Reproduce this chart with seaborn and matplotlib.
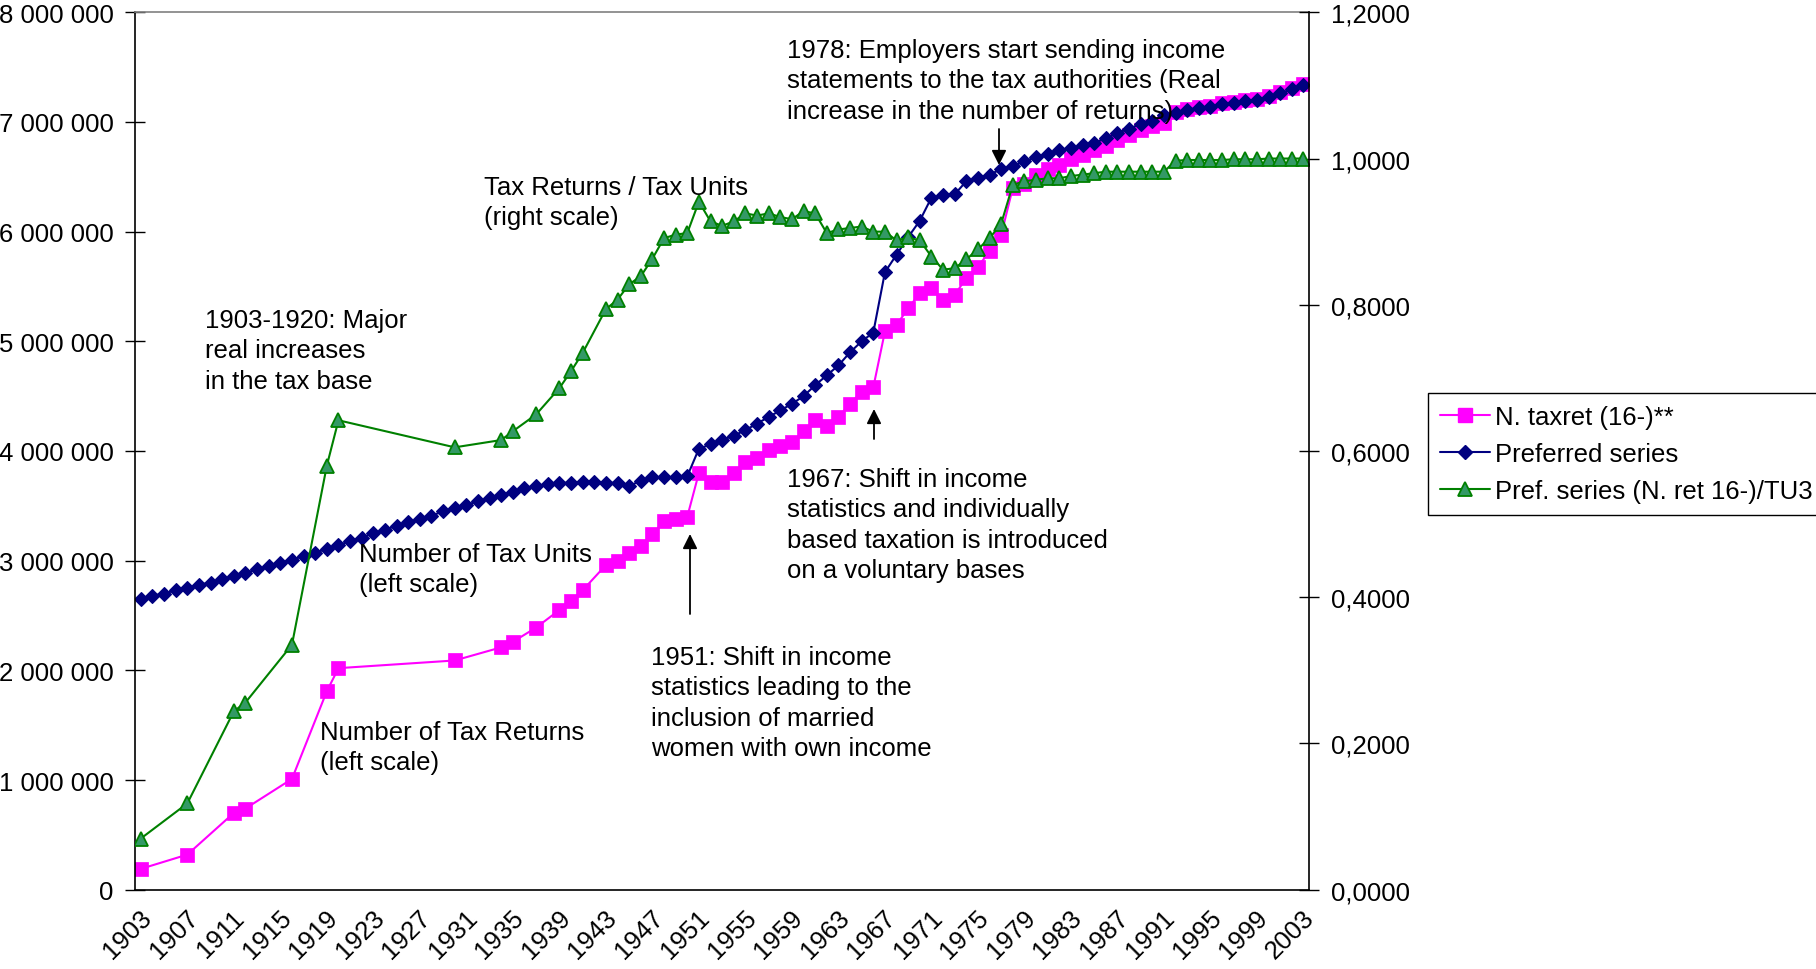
import matplotlib
matplotlib.use("Agg")
import matplotlib.pyplot as plt
import matplotlib.ticker as mticker
import matplotlib.transforms as mtransforms
from matplotlib.lines import Line2D
import numpy as np
import seaborn as sns

sns.set_style("white")
plt.rcParams["font.family"] = ["Liberation Sans", "DejaVu Sans"]
plt.rcParams["text.color"] = "black"
plt.rcParams["xtick.color"] = "black"
plt.rcParams["ytick.color"] = "black"
plt.rcParams["xtick.labelcolor"] = "black"
plt.rcParams["ytick.labelcolor"] = "black"

FS = 18.5

# ---- data ----
# Preferred series (number of tax units), millions, every year 1903-2003
unit_years = list(range(1903, 2004))
units_m = [
    2.65, 2.68, 2.70, 2.73, 2.75, 2.78, 2.80, 2.83, 2.86, 2.89,   # 1903-1912
    2.92, 2.95, 2.98, 3.01, 3.04, 3.07, 3.11, 3.14, 3.18, 3.21,   # 1913-1922
    3.25, 3.28, 3.32, 3.35, 3.38, 3.41, 3.45, 3.48, 3.51, 3.54,   # 1923-1932
    3.57, 3.60, 3.63, 3.66, 3.68, 3.70, 3.71, 3.71, 3.72, 3.72,   # 1933-1942
    3.71, 3.71, 3.68, 3.73, 3.76, 3.76, 3.76, 3.77, 4.02, 4.06,   # 1943-1952
    4.10, 4.14, 4.19, 4.25, 4.31, 4.37, 4.43, 4.50, 4.60, 4.69,   # 1953-1962
    4.78, 4.90, 5.00, 5.08, 5.63, 5.79, 5.95, 6.10, 6.31, 6.33,   # 1963-1972
    6.34, 6.46, 6.49, 6.52, 6.57, 6.60, 6.64, 6.68, 6.71, 6.74,   # 1973-1982
    6.76, 6.79, 6.81, 6.85, 6.90, 6.94, 6.98, 7.01, 7.06, 7.08,   # 1983-1992
    7.11, 7.13, 7.14, 7.16, 7.17, 7.19, 7.20, 7.23, 7.26, 7.30,   # 1993-2002
    7.34,                                                         # 2003
]

# N. taxret (16-)** and the ratio series share the same years
ret_years = [1903, 1907, 1911, 1912, 1916, 1919, 1920, 1930, 1934, 1935,
             1937, 1939, 1940, 1941] + list(range(1943, 2004))
returns_m = [
    0.19, 0.32, 0.70, 0.74, 1.01, 1.81, 2.02, 2.09, 2.21, 2.26,
    2.39, 2.55, 2.63, 2.73,
    2.96, 3.00, 3.07, 3.13, 3.24, 3.36, 3.38, 3.40, 3.80, 3.72,   # 1943-1952
    3.72, 3.80, 3.90, 3.94, 4.01, 4.05, 4.08, 4.18, 4.28, 4.23,   # 1953-1962
    4.31, 4.43, 4.54, 4.58, 5.09, 5.15, 5.30, 5.44, 5.49, 5.38,   # 1963-1972
    5.42, 5.58, 5.68, 5.82, 5.97, 6.40, 6.43, 6.52, 6.57, 6.61,   # 1973-1982
    6.66, 6.70, 6.74, 6.78, 6.84, 6.88, 6.93, 6.96, 6.99, 7.09,   # 1983-1992
    7.12, 7.14, 7.15, 7.17, 7.18, 7.20, 7.21, 7.24, 7.27, 7.31,   # 1993-2002
    7.35,
]
ratio = [
    0.070, 0.118, 0.244, 0.256, 0.335, 0.580, 0.642, 0.605, 0.615, 0.627,
    0.650, 0.686, 0.709, 0.734,
    0.794, 0.807, 0.828, 0.839, 0.863, 0.891, 0.896, 0.898, 0.941, 0.914,
    0.908, 0.914, 0.925, 0.922, 0.925, 0.920, 0.917, 0.928, 0.925, 0.898,
    0.903, 0.905, 0.907, 0.900, 0.900, 0.888, 0.892, 0.888, 0.866, 0.848,
    0.850, 0.862, 0.876, 0.891, 0.911, 0.964, 0.969, 0.971, 0.973, 0.973,
    0.976, 0.978, 0.980, 0.982, 0.982, 0.982, 0.982, 0.982, 0.982, 0.997,
    0.998, 0.998, 0.998, 0.998, 0.999, 0.999, 0.999, 1.000, 1.000, 1.000,
    1.000,
]

labels = ["N. taxret (16-)**", "Preferred series", "Pref. series (N. ret 16-)/TU3"]
tick_years = list(range(1903, 2004, 4))

PINK = "#FF00FF"
NAVY = "#000080"
GREEN = "#008000"
GREEN_FACE = "#339966"

W, H = 1816, 970
fig = plt.figure(figsize=(W / 100, H / 100), dpi=100)
ax = fig.add_axes([135 / W, 1 - 890.7 / H, (1309.3 - 135) / W, (890.7 - 13.3) / H])
ax2 = ax.twinx()

sns.lineplot(x=ret_years, y=np.array(returns_m) * 1e6, ax=ax, color=PINK,
             linewidth=1.5, marker="s", markersize=9.5,
             markeredgecolor=PINK, markerfacecolor=PINK, markeredgewidth=0.5)
sns.lineplot(x=unit_years, y=np.array(units_m) * 1e6, ax=ax, color=NAVY,
             linewidth=1.5, marker="D", markersize=7.2,
             markeredgecolor=NAVY, markerfacecolor=NAVY, markeredgewidth=0.8)
sns.lineplot(x=ret_years, y=ratio, ax=ax2, color=GREEN,
             linewidth=1.5, marker="^", markersize=9.5,
             markeredgecolor=GREEN, markerfacecolor=GREEN_FACE, markeredgewidth=1.3)

ax.set_xlim(1902.5, 2003.5)
ax.set_ylim(0, 8_000_000)
ax2.set_ylim(0, 1.2)
ax.set_xlabel("")
ax.set_ylabel("")
ax2.set_ylabel("")

ax.yaxis.set_major_locator(mticker.MultipleLocator(1_000_000))
ax.yaxis.set_major_formatter(mticker.FuncFormatter(lambda v, p: f"{int(round(v)):,}".replace(",", " ")))
ax2.yaxis.set_major_locator(mticker.MultipleLocator(0.2))
ax2.yaxis.set_major_formatter(mticker.FuncFormatter(lambda v, p: f"{v:.4f}".replace(".", ",")))

ax.set_xticks(tick_years)
ax.set_xticklabels([str(y) for y in tick_years])
ax.xaxis.set_minor_locator(mticker.FixedLocator(np.arange(1902.5, 2004, 1)))
ax.tick_params(axis="x", which="major", length=0, pad=15.5, labelsize=FS, labelcolor="black")
ax.tick_params(axis="x", which="minor", direction="inout", length=15, width=1, color="black")
nudge = mtransforms.ScaledTranslation(7 / 100, -2 / 100, fig.dpi_scale_trans)
for tick in ax.xaxis.get_major_ticks():
    lbl = tick.label1
    lbl.set_rotation(45)
    lbl.set_ha("right")
    lbl.set_va("center")
    lbl.set_rotation_mode("anchor")
    lbl.set_transform(lbl.get_transform() + nudge)

ax.tick_params(axis="y", direction="inout", length=15, width=1, color="black",
               pad=8, labelsize=FS, labelcolor="black", left=True)
ax2.tick_params(axis="y", direction="inout", length=15, width=1, color="black",
                pad=8, labelsize=FS, labelcolor="black", right=True)

for s in ["left", "bottom"]:
    ax.spines[s].set_color("black")
    ax.spines[s].set_linewidth(1.2)
ax.spines["top"].set_color("#808080")
ax.spines["top"].set_linewidth(1.2)
ax.spines["right"].set_visible(False)
for s in ["left", "bottom", "top"]:
    ax2.spines[s].set_visible(False)
ax2.spines["right"].set_color("black")
ax2.spines["right"].set_linewidth(1.2)
ax.grid(False)
ax2.grid(False)

# ---- annotations ----
def note(x, y, s):
    fig.text(x / W, 1 - y / H, s, fontsize=FS, va="top", ha="left",
             linespacing=1.34, color="black")

note(787, 39, "1978: Employers start sending income\nstatements to the tax authorities (Real\nincrease in the number of returns)")
note(484, 176, "Tax Returns / Tax Units\n(right scale)")
note(205, 309, "1903-1920: Major\nreal increases\nin the tax base")
note(359, 543, "Number of Tax Units\n(left scale)")
note(320, 721, "Number of Tax Returns\n(left scale)")
note(651, 646, "1951: Shift in income\nstatistics leading to the\ninclusion of married\nwomen with own income")
note(787, 468, "1967: Shift in income\nstatistics and individually\nbased taxation is introduced\non a voluntary bases")

def arrow(x, y_tail, y_head):
    ax.annotate("", xy=(x, H - y_head), xytext=(x, H - y_tail),
                xycoords="figure pixels", textcoords="figure pixels",
                arrowprops=dict(arrowstyle="-|>", color="black", lw=1.3,
                                mutation_scale=22, shrinkA=0, shrinkB=0))

arrow(690, 615, 535)
arrow(874, 440, 410)
arrow(999, 130, 166)

# ---- legend ----
handles = [
    Line2D([], [], color=PINK, lw=1.5, marker="s", markersize=9.5, markeredgecolor=PINK),
    Line2D([], [], color=NAVY, lw=1.5, marker="D", markersize=7.2, markeredgecolor=NAVY),
    Line2D([], [], color=GREEN, lw=1.5, marker="^", markersize=9.5,
           markeredgecolor=GREEN, markerfacecolor=GREEN_FACE, markeredgewidth=1.3),
]
leg = fig.legend(handles, labels, loc="upper left", bbox_to_anchor=(1428 / W, 1 - 394 / H),
                 fontsize=FS, frameon=True, fancybox=False, framealpha=1,
                 edgecolor="black", handlelength=1.95, handletextpad=0.2,
                 borderpad=0.45, labelspacing=0.52, borderaxespad=0)
leg.get_frame().set_linewidth(1.0)
for t in leg.get_texts():
    t.set_color("black")

fig.savefig("out.png", dpi=100)
